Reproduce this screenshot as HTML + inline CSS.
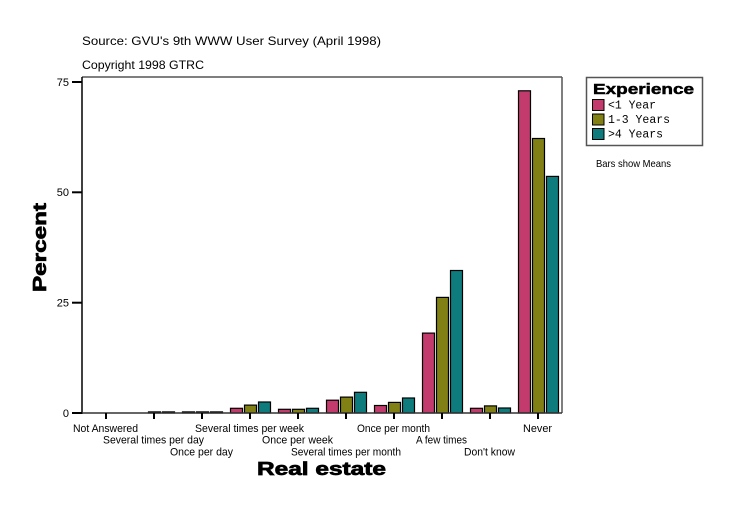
<!DOCTYPE html>
<html>
<head>
<meta charset="utf-8">
<style>
  html, body { margin: 0; padding: 0; background: #ffffff; }
  svg { display: block; }
  text { font-family: "Liberation Sans", "DejaVu Sans", sans-serif; fill: #000; }
  .mono { font-family: "Liberation Mono", "DejaVu Sans Mono", monospace; }
  .heavy { stroke: #000; stroke-width: 0.7; }
</style>
</head>
<body>
<svg width="736" height="516" viewBox="0 0 736 516" xmlns="http://www.w3.org/2000/svg">
  <rect x="0" y="0" width="736" height="516" fill="#ffffff"/>

  <!-- Titles -->
  <text x="82" y="45" font-size="12" textLength="299" lengthAdjust="spacingAndGlyphs">Source: GVU's 9th WWW User Survey (April 1998)</text>
  <text x="82" y="69" font-size="12" textLength="122" lengthAdjust="spacingAndGlyphs">Copyright 1998 GTRC</text>

  <!-- Plot frame -->
  <line x1="82" y1="77" x2="562" y2="77" stroke="#555" stroke-width="1.5"/>
  <line x1="562" y1="77" x2="562" y2="413" stroke="#555" stroke-width="1.5"/>

  <!-- Bars: pink, olive, teal -->
  <g stroke="#000" stroke-width="1.2">
    <!-- Several times per day (154) -->
    <rect x="148.5" y="411.9" width="12" height="1.1" fill="#808015"/>
    <rect x="162.5" y="411.9" width="12" height="1.1" fill="#0E7C7C"/>
    <!-- Once per day (202) -->
    <rect x="182.5" y="411.9" width="12" height="1.1" fill="#C23B6C"/>
    <rect x="196.5" y="411.9" width="12" height="1.1" fill="#808015"/>
    <rect x="210.5" y="411.9" width="12" height="1.1" fill="#0E7C7C"/>
    <!-- Several times per week (250) -->
    <rect x="230.5" y="408.3" width="12" height="4.7" fill="#C23B6C"/>
    <rect x="244.5" y="405.1" width="12" height="7.9" fill="#808015"/>
    <rect x="258.5" y="402" width="12" height="11" fill="#0E7C7C"/>
    <!-- Once per week (298) -->
    <rect x="278.5" y="409.3" width="12" height="3.7" fill="#C23B6C"/>
    <rect x="292.5" y="409.3" width="12" height="3.7" fill="#808015"/>
    <rect x="306.5" y="408.3" width="12" height="4.7" fill="#0E7C7C"/>
    <!-- Several times per month (346) -->
    <rect x="326.5" y="400.2" width="12" height="12.8" fill="#C23B6C"/>
    <rect x="340.5" y="397.1" width="12" height="15.9" fill="#808015"/>
    <rect x="354.5" y="392.3" width="12" height="20.7" fill="#0E7C7C"/>
    <!-- Once per month (394) -->
    <rect x="374.5" y="405.5" width="12" height="7.5" fill="#C23B6C"/>
    <rect x="388.5" y="402.4" width="12" height="10.6" fill="#808015"/>
    <rect x="402.5" y="398" width="12" height="15" fill="#0E7C7C"/>
    <!-- A few times (442) -->
    <rect x="422.5" y="333.1" width="12" height="79.9" fill="#C23B6C"/>
    <rect x="436.5" y="297.4" width="12" height="115.6" fill="#808015"/>
    <rect x="450.5" y="270.5" width="12" height="142.5" fill="#0E7C7C"/>
    <!-- Don't know (490) -->
    <rect x="470.5" y="408.3" width="12" height="4.7" fill="#C23B6C"/>
    <rect x="484.5" y="405.9" width="12" height="7.1" fill="#808015"/>
    <rect x="498.5" y="408" width="12" height="5" fill="#0E7C7C"/>
    <!-- Never (538) -->
    <rect x="518.5" y="90.8" width="12" height="322.2" fill="#C23B6C"/>
    <rect x="532.5" y="138.5" width="12" height="274.5" fill="#808015"/>
    <rect x="546.5" y="176.4" width="12" height="236.6" fill="#0E7C7C"/>
  </g>

  <!-- Axes -->
  <line x1="82" y1="77" x2="82" y2="414" stroke="#000" stroke-width="1.5"/>
  <line x1="82" y1="413" x2="562" y2="413" stroke="#333" stroke-width="1.5"/>

  <!-- Y ticks -->
  <g stroke="#000" stroke-width="2">
    <line x1="72" y1="82" x2="82" y2="82"/>
    <line x1="72" y1="192.3" x2="82" y2="192.3"/>
    <line x1="72" y1="302.7" x2="82" y2="302.7"/>
    <line x1="72" y1="413" x2="82" y2="413"/>
  </g>
  <g font-size="11" text-anchor="end">
    <text x="69" y="86">75</text>
    <text x="69" y="196">50</text>
    <text x="69" y="306.5">25</text>
    <text x="69" y="417">0</text>
  </g>

  <!-- X ticks -->
  <g stroke="#000" stroke-width="2">
    <line x1="106" y1="413" x2="106" y2="419"/>
    <line x1="154" y1="413" x2="154" y2="419"/>
    <line x1="202" y1="413" x2="202" y2="419"/>
    <line x1="250" y1="413" x2="250" y2="419"/>
    <line x1="298" y1="413" x2="298" y2="419"/>
    <line x1="346" y1="413" x2="346" y2="419"/>
    <line x1="394" y1="413" x2="394" y2="419"/>
    <line x1="442" y1="413" x2="442" y2="419"/>
    <line x1="490" y1="413" x2="490" y2="419"/>
    <line x1="538" y1="413" x2="538" y2="419"/>
  </g>

  <!-- X labels -->
  <g font-size="11" text-anchor="middle">
    <text x="105.5" y="432" textLength="65" lengthAdjust="spacingAndGlyphs">Not Answered</text>
    <text x="153.5" y="443.5" textLength="101" lengthAdjust="spacingAndGlyphs">Several times per day</text>
    <text x="201.5" y="455.5" textLength="63" lengthAdjust="spacingAndGlyphs">Once per day</text>
    <text x="249.5" y="432" textLength="109" lengthAdjust="spacingAndGlyphs">Several times per week</text>
    <text x="297.5" y="443.5" textLength="71" lengthAdjust="spacingAndGlyphs">Once per week</text>
    <text x="346" y="455.5" textLength="110" lengthAdjust="spacingAndGlyphs">Several times per month</text>
    <text x="393.5" y="432" textLength="73" lengthAdjust="spacingAndGlyphs">Once per month</text>
    <text x="441.5" y="443.5" textLength="51" lengthAdjust="spacingAndGlyphs">A few times</text>
    <text x="489.5" y="455.5" textLength="51" lengthAdjust="spacingAndGlyphs">Don't know</text>
    <text x="537.5" y="432" textLength="29" lengthAdjust="spacingAndGlyphs">Never</text>
  </g>

  <!-- Axis titles -->
  <text class="heavy" x="257" y="475" font-size="18" font-weight="bold" textLength="129" lengthAdjust="spacingAndGlyphs">Real estate</text>
  <text class="heavy" transform="translate(46,247.5) rotate(-90)" x="0" y="0" font-size="18" font-weight="bold" text-anchor="middle" textLength="89" lengthAdjust="spacingAndGlyphs">Percent</text>

  <!-- Legend -->
  <rect x="586.5" y="77.5" width="116" height="68" fill="#fff" stroke="#555" stroke-width="1.5"/>
  <text class="heavy" x="593" y="94" font-size="15" font-weight="bold" textLength="101" lengthAdjust="spacingAndGlyphs" style="stroke-width:0.5">Experience</text>
  <g stroke="#000" stroke-width="1">
    <rect x="592.5" y="99.5" width="11.5" height="11" fill="#C23B6C"/>
    <rect x="592.5" y="114" width="11.5" height="11" fill="#808015"/>
    <rect x="592.5" y="128.5" width="11.5" height="11" fill="#0E7C7C"/>
  </g>
  <g font-size="11.5">
    <text class="mono" x="608" y="108.5" textLength="48" lengthAdjust="spacingAndGlyphs">&lt;1 Year</text>
    <text class="mono" x="608" y="123" textLength="62" lengthAdjust="spacingAndGlyphs">1-3 Years</text>
    <text class="mono" x="608" y="137.5" textLength="55" lengthAdjust="spacingAndGlyphs">&gt;4 Years</text>
  </g>
  <text x="596" y="167" font-size="10.5" textLength="75" lengthAdjust="spacingAndGlyphs">Bars show Means</text>
</svg>
</body>
</html>
